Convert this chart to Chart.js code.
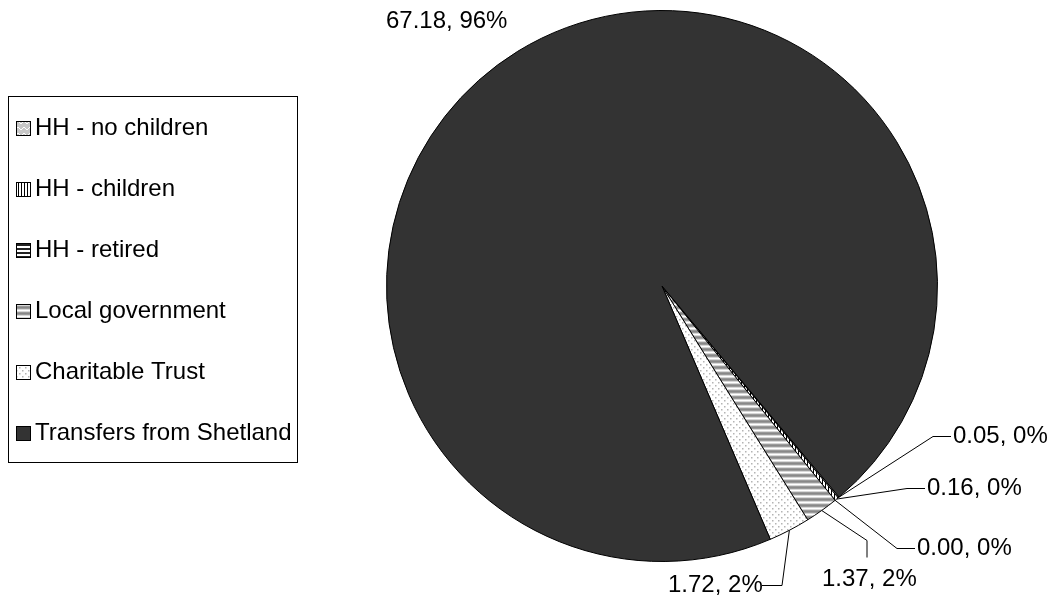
<!DOCTYPE html>
<html>
<head>
<meta charset="utf-8">
<script src="https://cdn.jsdelivr.net/npm/chart.js@4/dist/chart.umd.min.js"></script>
<style>
  html, body { margin: 0; padding: 0; background: #fff; }
  canvas { display: block; }
</style>
</head>
<body>
<canvas id="pieChart" width="1056" height="603"></canvas>
<script>
// data
const categories = [
    "HH - no children",
    "HH - children",
    "HH - retired",
    "Local government",
    "Charitable Trust",
    "Transfers from Shetland",
];
const values = [0.05, 0.16, 0.00, 1.37, 1.72, 67.18];
const shareLabels = ["0%", "0%", "0%", "2%", "2%", "96%"];

// where each data label sits, and the elbow of its leader line
const labelLayout = [
    { x: 953, y: 436, line: [[951, 436], [933, 436]] },
    { x: 927, y: 488, line: [[925, 488], [907, 488]] },
    { x: 917, y: 548, line: [[915, 548], [897, 548]] },
    { x: 822, y: 579, line: [[867, 557], [867, 540]] },
    { x: 668, y: 585, line: [[762, 585], [782, 585]] },
    { x: 386, y: 21, line: null },
];

const FONT = '24px "Liberation Sans", Arial, sans-serif';

function makeTile(w, h, paint) {
    const c = document.createElement("canvas");
    c.width = w;
    c.height = h;
    const g = c.getContext("2d");
    paint(g);
    return g.createPattern(c, "repeat");
}

const fills = [
    // no children: light grey with white zigzag
    makeTile(6, 6, (g) => {
        g.fillStyle = "#c8c8c8";
        g.fillRect(0, 0, 6, 6);
        g.strokeStyle = "#fff";
        g.lineWidth = 1;
        g.beginPath();
        g.moveTo(0, 1); g.lineTo(3, 4); g.lineTo(6, 1);
        g.stroke();
    }),
    // children: vertical lines
    makeTile(3, 3, (g) => {
        g.fillStyle = "#fff";
        g.fillRect(0, 0, 3, 3);
        g.fillStyle = "#000";
        g.fillRect(0, 0, 1, 3);
    }),
    // retired: horizontal lines
    makeTile(3, 4, (g) => {
        g.fillStyle = "#fff";
        g.fillRect(0, 0, 3, 4);
        g.fillStyle = "#222";
        g.fillRect(0, 0, 3, 2);
    }),
    // local government: soft grey bands
    makeTile(6, 6, (g) => {
        const rows = ["#9a9a9a", "#888", "#9a9a9a", "#d8d8d8", "#fff", "#d8d8d8"];
        rows.forEach((col, i) => {
            g.fillStyle = col;
            g.fillRect(0, i, 6, 1);
        });
    }),
    // charitable trust: grey dots
    makeTile(6, 6, (g) => {
        g.fillStyle = "#fff";
        g.fillRect(0, 0, 6, 6);
        g.fillStyle = "#b4b4b4";
        g.fillRect(1, 1, 1.5, 1.5);
        g.fillRect(4, 4, 1.5, 1.5);
    }),
    "#333333",
];

const dataLabels = {
    id: "dataLabels",
    afterDatasetsDraw(chart) {
        const ctx = chart.ctx;
        const arcs = chart.getDatasetMeta(0).data;
        ctx.save();
        ctx.font = FONT;
        ctx.fillStyle = "#000";
        ctx.textBaseline = "middle";
        ctx.textAlign = "left";
        ctx.strokeStyle = "#000";
        ctx.lineWidth = 1;
        arcs.forEach((arc, i) => {
            const p = arc.getProps(["x", "y", "startAngle", "endAngle", "outerRadius"], true);
            const mid = (p.startAngle + p.endAngle) / 2;
            const ex = p.x + Math.cos(mid) * p.outerRadius;
            const ey = p.y + Math.sin(mid) * p.outerRadius;
            const lay = labelLayout[i];
            if (lay.line) {
                ctx.beginPath();
                ctx.moveTo(lay.line[0][0], lay.line[0][1] + 0.5);
                ctx.lineTo(lay.line[1][0], lay.line[1][1] + 0.5);
                ctx.lineTo(ex, ey);
                ctx.stroke();
            }
            ctx.fillText(values[i].toFixed(2) + ", " + shareLabels[i], lay.x, lay.y);
        });
        ctx.restore();
    },
};

const boxLegend = {
    id: "boxLegend",
    afterDraw(chart) {
        const ctx = chart.ctx;
        const ds = chart.data.datasets[0];
        ctx.save();
        ctx.strokeStyle = "#000";
        ctx.lineWidth = 1;
        ctx.strokeRect(8.5, 96.5, 289, 366);
        ctx.font = FONT;
        ctx.textBaseline = "middle";
        ctx.textAlign = "left";
        chart.data.labels.forEach((label, i) => {
            const cy = 128 + i * 61;
            ctx.fillStyle = ds.backgroundColor[i];
            ctx.fillRect(16, cy - 7, 14, 14);
            ctx.strokeRect(16.5, cy - 6.5, 14, 14);
            ctx.fillStyle = "#000";
            ctx.fillText(label, 35, cy);
        });
        ctx.restore();
    },
};

new Chart(document.getElementById("pieChart"), {
    type: "pie",
    data: {
        labels: categories,
        datasets: [{
            data: values,
            backgroundColor: fills,
            borderColor: "#000",
            borderWidth: 1,
        }],
    },
    options: {
        responsive: false,
        animation: false,
        rotation: 140,
        layout: { padding: { left: 386, right: 118, top: 10, bottom: 41 } },
        plugins: {
            legend: { display: false },
            tooltip: { enabled: false },
        },
    },
    plugins: [dataLabels, boxLegend],
});
</script>
</body>
</html>
